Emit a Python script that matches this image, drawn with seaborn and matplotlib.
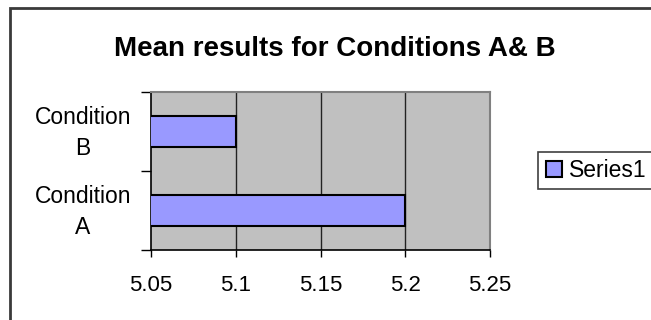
import matplotlib
matplotlib.use("Agg")
import matplotlib.pyplot as plt
import matplotlib.transforms as mtransforms
from matplotlib.patches import Rectangle
import seaborn as sns
import pandas as pd

# Chart data
categories = ["Condition\nB", "Condition\nA"]
means = [5.1, 5.2]
series_name = "Series1"
x_ticks = [5.05, 5.1, 5.15, 5.2, 5.25]
x_tick_labels = ["5.05", "5.1", "5.15", "5.2", "5.25"]
title = "Mean results for Conditions A& B"

sns.set_theme(style="white")
plt.rcParams["font.family"] = ["Liberation Sans", "DejaVu Sans"]
plt.rcParams["text.color"] = "black"
plt.rcParams["xtick.color"] = "black"
plt.rcParams["ytick.color"] = "black"

W, H = 651, 320
fig = plt.figure(figsize=(W / 100, H / 100), dpi=100)
fig.patch.set_facecolor("white")

# Outer chart frame (runs past the right and bottom edges)
fig.patches.append(Rectangle((10 / W, -0.2), 1.2, 1.2 - 7.5 / H,
                             transform=fig.transFigure, fill=False,
                             edgecolor="#3a3a3a", linewidth=2.0, zorder=0))

ax = fig.add_axes([151 / W, 1 - 250 / H, (490 - 151) / W, (250 - 92) / H])
ax.set_facecolor("#C0C0C0")

df = pd.DataFrame({"category": categories, "mean": means})
sns.barplot(data=df, x="mean", y="category", order=categories,
            color="#9999FF", width=0.4, edgecolor="black", linewidth=1.5,
            saturation=1, ax=ax, zorder=3, label=series_name, legend=False)
if ax.get_legend() is not None:
    ax.get_legend().remove()

ax.set_xlim(x_ticks[0], x_ticks[-1])
ax.set_ylim(1.5, -0.5)
ax.set_xticks(x_ticks)
ax.set_xticklabels(x_tick_labels)
ax.set_xlabel("")
ax.set_ylabel("")

# Vertical gridlines
for v in x_ticks[1:-1]:
    ax.axvline(v, color="#222222", linewidth=1.0, zorder=1)

# Y ticks at category boundaries, labels centred on categories
ax.set_yticks([-0.5, 0.5, 1.5], minor=False)
ax.set_yticklabels([])
ax.set_yticks([0, 1], minor=True)
ax.set_yticklabels(categories, minor=True, multialignment="center",
                   ha="center", fontsize=16.5, linespacing=1.45)
ax.tick_params(axis="y", which="minor", length=0, pad=49)
ax.tick_params(axis="y", which="major", length=7, width=1, direction="out", left=True)
ax.tick_params(axis="x", length=5, width=1, direction="out",
               labelsize=16, pad=13, bottom=True)
shift_up = mtransforms.ScaledTranslation(0, 5 / 100, fig.dpi_scale_trans)
for lbl in ax.get_yticklabels(minor=True):
    lbl.set_transform(lbl.get_transform() + shift_up)

for side in ["top", "right"]:
    ax.spines[side].set_color("#808080")
    ax.spines[side].set_linewidth(1.5)
for side in ["left", "bottom"]:
    ax.spines[side].set_color("black")
    ax.spines[side].set_linewidth(1.2)

# Legend box (extends past the right edge)
fig.patches.append(Rectangle((538 / W, 1 - 189 / H), 0.5, 37 / H,
                             transform=fig.transFigure, facecolor="white",
                             edgecolor="#404040", linewidth=1.2, zorder=1))
handles = [ax.patches[0]]
leg = fig.legend(handles, [series_name], loc="center left",
                 bbox_to_anchor=(546 / W, 1 - 170.5 / H), frameon=False,
                 fontsize=16.5, handlelength=0.7, handleheight=0.7,
                 handletextpad=0.3, borderaxespad=0, borderpad=0)

fig.text(335 / W, 1 - 56 / H, title, ha="center", va="baseline",
         fontsize=20, fontweight="bold")

fig.savefig("out.png", dpi=100)
